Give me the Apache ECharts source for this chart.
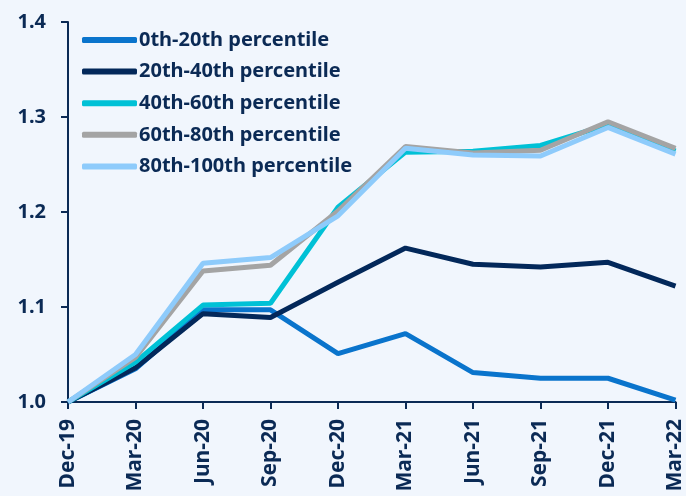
<!DOCTYPE html>
<html>
<head>
<meta charset="utf-8">
<script src="https://cdn.jsdelivr.net/npm/echarts@6/dist/echarts.min.js"></script>
<style>
html,body{margin:0;padding:0;background:#f1f6fd;}
#chart{width:686px;height:496px;}
</style>
</head>
<body>
<div id="chart"></div>
<script>
const categories = ['Dec-19','Mar-20','Jun-20','Sep-20','Dec-20','Mar-21','Jun-21','Sep-21','Dec-21','Mar-22'];
const seriesNames = ['0th-20th percentile','20th-40th percentile','40th-60th percentile','60th-80th percentile','80th-100th percentile'];
const p0_20   = [1.000, 1.035, 1.097, 1.097, 1.051, 1.072, 1.031, 1.025, 1.025, 1.002];
const p20_40  = [1.000, 1.036, 1.093, 1.089, 1.126, 1.162, 1.145, 1.142, 1.147, 1.122];
const p40_60  = [1.000, 1.042, 1.102, 1.104, 1.205, 1.263, 1.264, 1.270, 1.292, 1.264];
const p60_80  = [1.000, 1.047, 1.138, 1.144, 1.201, 1.269, 1.262, 1.265, 1.295, 1.267];
const p80_100 = [1.000, 1.050, 1.146, 1.152, 1.196, 1.267, 1.260, 1.259, 1.289, 1.261];
const yTicks = [1.0, 1.1, 1.2, 1.3, 1.4];

const colors = ['#0a74cc', '#03285a', '#00c1d6', '#a4a4a4', '#8ecbfb'];
const textColor = '#0b2a55';
const font = 'Noto Sans';

const allData = [p0_20, p20_40, p40_60, p60_80, p80_100];
const chart = echarts.init(document.getElementById('chart'), null, {renderer:'canvas'});
chart.setOption({
  backgroundColor: '#f1f6fd',
  animation: false,
  color: colors,
  grid: {left: 68, right: 6, top: 22, bottom: 94, containLabel: false},
  legend: {
    orient: 'vertical',
    left: 77,
    top: 24,
    icon: 'roundRect',
    itemWidth: 55,
    itemHeight: 6,
    itemGap: 9.6,
    data: seriesNames,
    textStyle: {color: textColor, fontFamily: font, fontWeight: 'bold', fontSize: 20, lineHeight: 22, padding: [0,0,0,-3]}
  },
  xAxis: {
    type: 'category',
    data: categories,
    boundaryGap: false,
    axisLine: {lineStyle: {color: textColor, width: 2}},
    axisTick: {show: true, length: 7, lineStyle: {color: textColor, width: 2}},
    axisLabel: {rotate: 90, margin: 17, color: textColor, fontFamily: font, fontWeight: 'bold', fontSize: 21}
  },
  yAxis: {
    type: 'value',
    min: yTicks[0],
    max: yTicks[yTicks.length-1],
    interval: 0.1,
    splitLine: {show: false},
    axisLine: {show: true, lineStyle: {color: textColor, width: 2}},
    axisTick: {show: true, length: 7, lineStyle: {color: textColor, width: 2}},
    axisLabel: {margin: 22, color: textColor, fontFamily: font, fontWeight: 'bold', fontSize: 20,
      formatter: v => v.toFixed(1)}
  },
  series: seriesNames.map((n, i) => ({
    name: n,
    type: 'line',
    data: allData[i],
    symbol: 'none',
    showSymbol: false,
    lineStyle: {width: 5, color: colors[i]},
    z: 2 + i
  }))
});
</script>
</body>
</html>
